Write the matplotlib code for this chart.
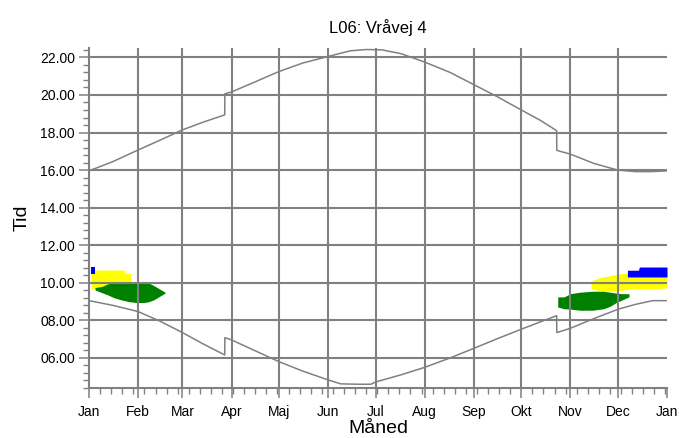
import matplotlib
matplotlib.use("Agg")
import matplotlib.pyplot as plt
import numpy as np

plt.rcParams['font.family'] = ['Liberation Sans', 'DejaVu Sans']

# ---- data (day of year, hours) ----
month_days = [0, 31, 59, 90, 120, 151, 181, 212, 243, 273, 304, 334, 365]
month_labels = ["Jan", "Feb", "Mar", "Apr", "Maj", "Jun", "Jul", "Aug",
                "Sep", "Okt", "Nov", "Dec", "Jan"]

sunset_days = [0, 15, 31, 45, 59, 72, 85.7, 85.8, 90, 105, 120, 135, 151, 165,
               175, 185, 197, 212, 228, 243, 258, 273, 285, 295.3, 295.4, 304,
               319, 334, 345, 355, 365]
sunset_hours = [15.96, 16.45, 17.07, 17.6, 18.14, 18.55, 18.94, 20.06, 20.16, 20.7,
                21.25, 21.7, 22.05, 22.35, 22.42, 22.4, 22.2, 21.75, 21.2, 20.55,
                19.9, 19.2, 18.65, 18.1, 17.05, 16.85, 16.35, 16.0, 15.92, 15.92, 15.96]

sunrise_days = [0, 15, 31, 45, 59, 72, 85.7, 85.8, 90, 105, 120, 135, 151, 159,
                170, 178, 181, 197, 212, 228, 243, 258, 273, 285, 295.3, 295.4,
                304, 319, 334, 345, 356, 365]
sunrise_hours = [9.05, 8.8, 8.47, 7.95, 7.35, 6.75, 6.16, 7.08, 6.96, 6.38,
                 5.8, 5.3, 4.83, 4.62, 4.6, 4.6, 4.72, 5.1, 5.5, 6.0, 6.51,
                 7.03, 7.53, 7.92, 8.25, 7.35, 7.58, 8.1, 8.59, 8.85, 9.05, 9.05]

# shadow periods: left cluster (Jan-Feb)
yellow1_days = [1.3, 8, 15, 22, 23, 26.5]
yellow1_low = [9.68, 9.72, 9.75, 9.8, 9.85, 10.04]
yellow1_high = [10.68, 10.68, 10.68, 10.68, 10.49, 10.49]

blue1_days = [1.3, 3.8]
blue1_low = [10.47, 10.47]
blue1_high = [10.84, 10.84]

green1_days = [3.8, 8, 12, 16, 20, 25, 30, 35, 38, 41, 44, 48]
green1_low = [9.62, 9.48, 9.35, 9.2, 9.1, 9.0, 8.95, 8.95, 9.0, 9.1, 9.25, 9.45]
green1_high = [9.75, 9.8, 9.95, 10.0, 10.0, 10.0, 10.0, 10.0, 9.98, 9.85, 9.7, 9.5]

# right cluster (Oct-Dec)
green2_days = [296, 300, 304, 310, 318, 325, 329, 333, 337, 341]
green2_low = [8.71, 8.62, 8.6, 8.54, 8.54, 8.62, 8.75, 8.95, 9.1, 9.25]
green2_high = [9.25, 9.25, 9.42, 9.5, 9.55, 9.55, 9.5, 9.45, 9.42, 9.42]

yellow2_days = [317, 322, 330, 336, 345, 355, 365]
yellow2_low = [9.7, 9.57, 9.57, 9.6, 9.69, 9.69, 9.72]
yellow2_high = [10.1, 10.26, 10.4, 10.49, 10.55, 10.6, 10.6]

blue2_days = [340, 347, 347.5, 365]
blue2_low = [10.31, 10.31, 10.31, 10.31]
blue2_high = [10.67, 10.67, 10.84, 10.84]

GRAY = "#808080"

fig = plt.figure(figsize=(6.79, 4.38), dpi=100)
ax = fig.add_axes([89/679, 1-388/438, (667-89)/679, (388-48)/438])

# patches
ax.fill_between(yellow1_days, yellow1_low, yellow1_high, color="#FFFF00", lw=0, zorder=1)
ax.fill_between(blue1_days, blue1_low, blue1_high, color="#0000FF", lw=0, zorder=1.2)
ax.fill_between(green1_days, green1_low, green1_high, color="#008000", lw=0, zorder=1.1)
ax.fill_between(yellow2_days, yellow2_low, yellow2_high, color="#FFFF00", lw=0, zorder=1)
ax.fill_between(green2_days, green2_low, green2_high, color="#008000", lw=0, zorder=1.1)
ax.fill_between(blue2_days, blue2_low, blue2_high, color="#0000FF", lw=0, zorder=1.2)

# sun lines
ax.plot(sunset_days, sunset_hours, color=GRAY, lw=1.1, zorder=2)
ax.plot(sunrise_days, sunrise_hours, color=GRAY, lw=1.1, zorder=2)

ax.set_xlim(0, 365)
ax.set_ylim(4.4, 22.5)

# grid
for d in month_days[1:-1]:
    ax.axvline(d, color=GRAY, lw=1.5, zorder=3)
for h in range(6, 23, 2):
    ax.axhline(h, color=GRAY, lw=1.5, zorder=3)

# spines
for s in ["top", "right"]:
    ax.spines[s].set_visible(False)
for s in ["left", "bottom"]:
    ax.spines[s].set_color(GRAY)
    ax.spines[s].set_linewidth(1.5)
    ax.spines[s].set_zorder(4)

ax.set_xticks(month_days)
ax.set_xticklabels(month_labels, fontsize=10)
minor_x = [d for d in range(0, 366, 7) if d not in month_days]
ax.set_xticks(minor_x, minor=True)

yt = list(range(6, 23, 2))
ax.set_yticks(yt)
ax.set_yticklabels(["%05.2f" % v for v in yt], fontsize=10)
ax.set_yticks(np.arange(4.4, 22.5, 0.4), minor=True)

ax.tick_params(axis="both", which="major", length=7, width=1.1, color=GRAY, pad=3)
ax.tick_params(axis="both", which="minor", length=4, width=1.0, color=GRAY)
ax.tick_params(axis="x", which="major", pad=5)

ax.set_title("L06: Vråvej 4", fontsize=12, pad=11)
ax.set_xlabel("Måned", fontsize=14, labelpad=1)
ax.set_ylabel("Tid", fontsize=14, labelpad=7)

fig.savefig("out.png", dpi=100)
